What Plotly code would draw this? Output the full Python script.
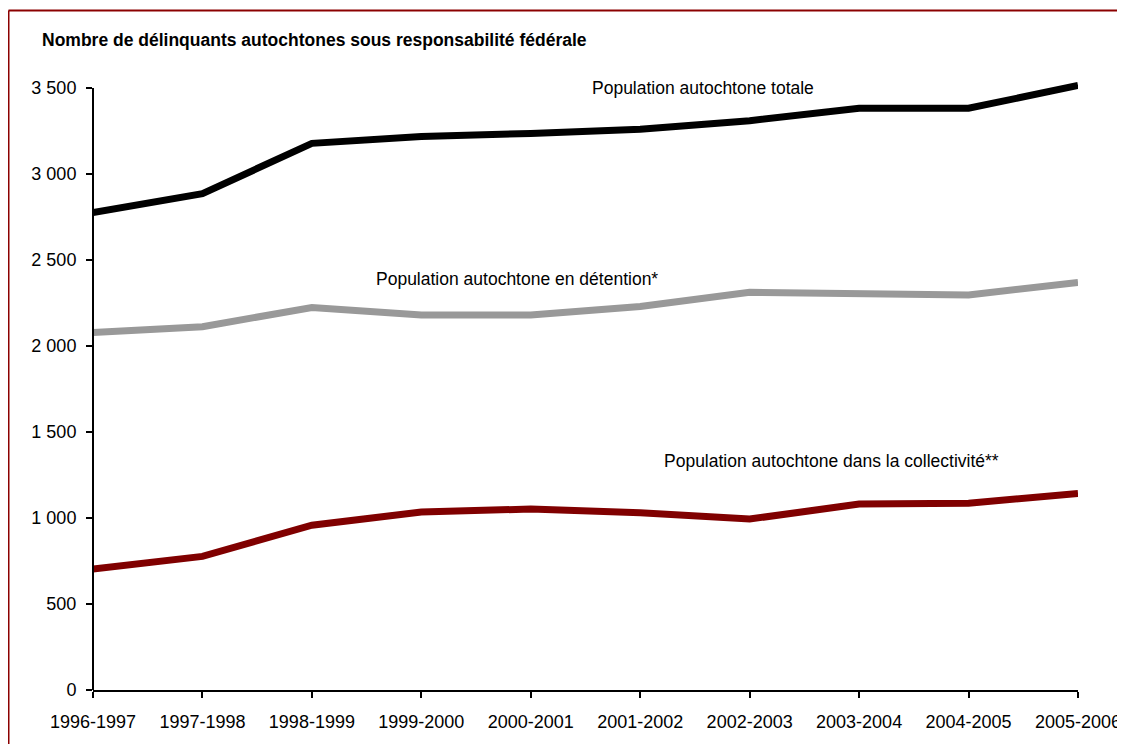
import plotly.graph_objects as go

categories = ["1996-1997", "1997-1998", "1998-1999", "1999-2000", "2000-2001",
              "2001-2002", "2002-2003", "2003-2004", "2004-2005", "2005-2006"]
total = [2776, 2886, 3178, 3218, 3236, 3260, 3310, 3382, 3382, 3515]
detention = [2079, 2112, 2224, 2180, 2180, 2230, 2312, 2300, 2296, 2370]
community = [703, 777, 958, 1035, 1052, 1030, 994, 1081, 1086, 1143]
y_ticks = [0, 500, 1000, 1500, 2000, 2500, 3000, 3500]

FONT = "Liberation Sans, Arial, sans-serif"

# page offset (body margin) in the screenshot
OFF = 8
W, H = 1125 - OFF, 752 - 2 * OFF
# target plot positions in screenshot pixels
X_LEFT, X_RIGHT = 93, 1078
Y_ZERO, Y_3500 = 690, 88
Y_TOP = 76
unit = (Y_ZERO - Y_3500) / 3500.0
y_max = (Y_ZERO - Y_TOP) / unit

L = X_LEFT - OFF
R = W - (X_RIGHT - OFF)
T = Y_TOP - OFF
B = H - (Y_ZERO - OFF)
pw, ph = W - L - R, H - T - B

def px_x(p):
    return (p - X_LEFT) / pw

def px_y(p):
    return (Y_ZERO - p) / ph

fig = go.Figure()
fig.add_trace(go.Scatter(x=categories, y=total, mode="lines",
                         line=dict(color="#000000", width=7), name="total"))
fig.add_trace(go.Scatter(x=categories, y=detention, mode="lines",
                         line=dict(color="#999999", width=7), name="detention"))
fig.add_trace(go.Scatter(x=categories, y=community, mode="lines",
                         line=dict(color="#800000", width=7), name="community"))

fig.update_layout(
    width=W, height=H, autosize=False,
    margin=dict(l=L, r=R, t=T, b=B, pad=0, autoexpand=False),
    paper_bgcolor="white", plot_bgcolor="white",
    showlegend=False,
    separators=", ",
    font=dict(family=FONT, size=17, color="#000000"),
    xaxis=dict(type="category", range=[0, len(categories) - 1], showgrid=False,
               zeroline=False, showline=True, linecolor="black", linewidth=2,
               ticks="outside", ticklen=6, tickwidth=2, tickcolor="black",
               ticklabelstandoff=8, automargin=False,
               tickfont=dict(family=FONT, size=18)),
    yaxis=dict(range=[0, y_max], tickvals=y_ticks, tickformat=",d", showgrid=False,
               zeroline=False, showline=False,
               ticks="outside", ticklen=6, tickwidth=2, tickcolor="black",
               ticklabelstandoff=6, automargin=False,
               tickfont=dict(family=FONT, size=18)),
    shapes=[
        dict(type="line", xref="paper", yref="y",
             x0=0, x1=0, y0=0, y1=y_ticks[-1],
             line=dict(color="black", width=2)),
        dict(type="line", xref="paper", yref="paper",
             x0=px_x(8.5), x1=px_x(8.5), y0=px_y(800), y1=px_y(10.5),
             line=dict(color="#8B0000", width=2)),
        dict(type="line", xref="paper", yref="paper",
             x0=px_x(8.5), x1=px_x(1200), y0=px_y(10.5), y1=px_y(10.5),
             line=dict(color="#8B0000", width=2)),
    ],
    annotations=[
        dict(text="<b>Nombre de délinquants autochtones sous responsabilité fédérale</b>",
             xref="paper", yref="paper", x=px_x(40), y=px_y(40),
             xanchor="left", yanchor="middle", showarrow=False,
             font=dict(family=FONT, size=17.5)),
        dict(text="Population autochtone totale", xref="x", yref="y",
             x=5.57, y=3500, xanchor="center", yanchor="middle", showarrow=False,
             font=dict(family=FONT, size=17.5)),
        dict(text="Population autochtone en détention*", xref="x", yref="y",
             x=3.87, y=2390, xanchor="center", yanchor="middle", showarrow=False,
             font=dict(family=FONT, size=17.5)),
        dict(text="Population autochtone dans la collectivité**", xref="x", yref="y",
             x=6.75, y=1331, xanchor="center", yanchor="middle", showarrow=False,
             font=dict(family=FONT, size=17.5)),
    ],
)

fig.write_html("out.html")
